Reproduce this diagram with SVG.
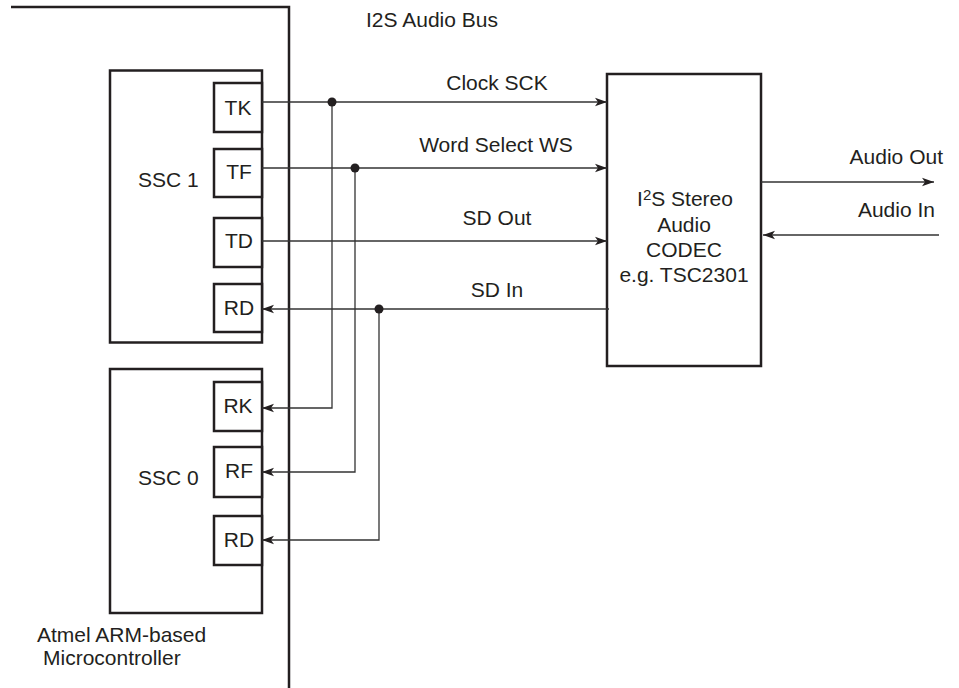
<svg xmlns="http://www.w3.org/2000/svg" width="959" height="688" viewBox="0 0 959 688">
<style>
text{font-family:"Liberation Sans",Arial,sans-serif;font-size:21px;fill:#231f20}
.thick{fill:none;stroke:#231f20;stroke-width:2.5}
.box{fill:#fff;stroke:#231f20;stroke-width:2.5}
.wire{fill:none;stroke:#333;stroke-width:1.3}
.mid{text-anchor:middle}
.end{text-anchor:end}
</style>
<defs>
<marker id="ah" markerUnits="userSpaceOnUse" markerWidth="12" markerHeight="10" viewBox="0 0 12 10" refX="12" refY="5" orient="auto">
<path d="M0,0.8 L12,5 L0,9.2 L3,5 Z" fill="#231f20"/>
</marker>
</defs>
<rect width="959" height="688" fill="#fff"/>
<g id="mcu">
<path class="thick" d="M11,7 H289 V688"/>
<text x="37" y="642">Atmel ARM-based</text>
<text x="43" y="665">Microcontroller</text>
</g>
<g id="ssc1">
<rect class="box" x="110" y="70.5" width="152" height="272"/>
<text x="138" y="187">SSC 1</text>
</g>
<g id="ssc0">
<rect class="box" x="110" y="369" width="152" height="244"/>
<text x="138" y="485">SSC 0</text>
</g>
<g id="tk"><rect class="box" x="214" y="83" width="48" height="49"/><text class="mid" x="238" y="115">TK</text></g>
<g id="tf"><rect class="box" x="214" y="149" width="48" height="48"/><text class="mid" x="239" y="179">TF</text></g>
<g id="td"><rect class="box" x="214" y="218" width="48" height="49"/><text class="mid" x="239" y="248">TD</text></g>
<g id="rd1"><rect class="box" x="214" y="284" width="48" height="48"/><text class="mid" x="239" y="315">RD</text></g>
<g id="rk"><rect class="box" x="214" y="382" width="48" height="49"/><text class="mid" x="238" y="413">RK</text></g>
<g id="rf"><rect class="box" x="214" y="447" width="48" height="50"/><text class="mid" x="239" y="478">RF</text></g>
<g id="rd0"><rect class="box" x="214" y="516" width="48" height="49"/><text class="mid" x="239" y="547">RD</text></g>
<g id="codec">
<rect class="box" x="607" y="74" width="154" height="292"/>
<text class="mid" x="685" y="206">I<tspan font-size="15" dy="-6">2</tspan><tspan dy="6">S Stereo</tspan></text>
<text class="mid" x="684" y="232">Audio</text>
<text class="mid" x="684" y="257">CODEC</text>
<text class="mid" x="684" y="282">e.g. TSC2301</text>
</g>
<g id="connectors">
<path class="wire" d="M262,102 H607" marker-end="url(#ah)"/>
<path class="wire" d="M262,168 H607" marker-end="url(#ah)"/>
<path class="wire" d="M262,241 H607" marker-end="url(#ah)"/>
<path class="wire" d="M609,309 H262" marker-end="url(#ah)"/>
<path class="wire" d="M332,102 V408 H262" marker-end="url(#ah)"/>
<path class="wire" d="M355,168 V472 H262" marker-end="url(#ah)"/>
<path class="wire" d="M379,309 V540 H262" marker-end="url(#ah)"/>
<path class="wire" d="M761,182 H934" marker-end="url(#ah)"/>
<path class="wire" d="M939,235 H763" marker-end="url(#ah)"/>
<circle cx="332" cy="102" r="4.5" fill="#231f20"/>
<circle cx="355" cy="168" r="4.5" fill="#231f20"/>
<circle cx="379" cy="309" r="4.5" fill="#231f20"/>
</g>
<g id="labels">
<text class="mid" x="432" y="27">I2S Audio Bus</text>
<text class="mid" x="497" y="90">Clock SCK</text>
<text class="mid" x="496" y="152">Word Select WS</text>
<text class="mid" x="497" y="225">SD Out</text>
<text class="mid" x="497" y="297">SD In</text>
<text class="end" x="943" y="164">Audio Out</text>
<text class="end" x="935" y="217">Audio In</text>
</g>
</svg>
